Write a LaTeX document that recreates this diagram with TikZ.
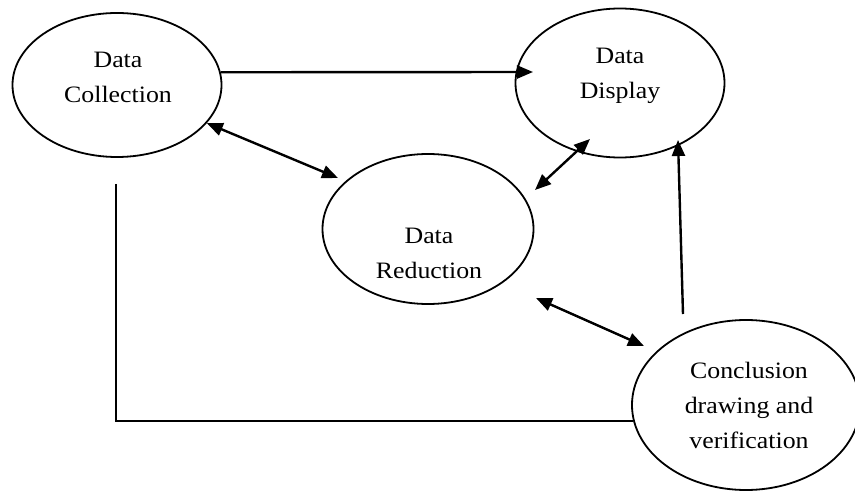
\documentclass[tikz,border=0pt]{standalone}
\usepackage{fontspec}
\setmainfont{Liberation Serif}[FakeStretch=1.1]
\usetikzlibrary{arrows.meta,shapes.geometric}

\begin{document}
\begin{tikzpicture}[x=1pt, y=1pt, line width=2.4pt, >={Triangle[length=16pt,width=13pt]},
    stage/.style={draw, ellipse, line width=1.8pt, inner sep=0pt},
    txt/.style={align=center, inner sep=0pt, font=\fontsize{23.5}{35}\selectfont}]

    \useasboundingbox (0,0) rectangle (855,491);

            \node[stage, minimum width=209pt, minimum height=144pt] (coll) at (117,406) {};
            \node[stage, minimum width=209pt, minimum height=149pt] (disp) at (620,408) {};
            \node[stage, minimum width=211pt, minimum height=150pt] (red) at (428,262) {};
            \node[stage, minimum width=228pt, minimum height=170pt] (concl) at (746,86) {};

            \node[txt] (collT) at (118,413.5) {Data\\Collection};
            \node[txt] (dispT) at (620,415) {Data\\Display};
            \node[txt] (redT) at (429,238) {Data\\Reduction};
            \node[txt] (conclT) at (749,86) {Conclusion\\drawing and\\verification};

            \coordinate (dispin) at (533,419);
            \coordinate (redtl) at (338,313);
            \coordinate (redtr) at (535,301);
            \coordinate (dispbl) at (590,352);
            \coordinate (redbr) at (536,193);
            \coordinate (conclul) at (644,145);
            \coordinate (conclup) at (683,177);
            \coordinate (disptip) at (678,351);
            \coordinate (collbelow) at (116,307);

            \path
                (coll.7) edge[->] (dispin)
                (coll.-23) edge[<->] (redtl)
                (redtr) edge[<->] (dispbl)
                (redbr) edge[<->] (conclul)
                (conclup) edge[->] (disptip)
                ;
            \draw (collbelow) |- (concl.188);
\end{tikzpicture}
\end{document}
